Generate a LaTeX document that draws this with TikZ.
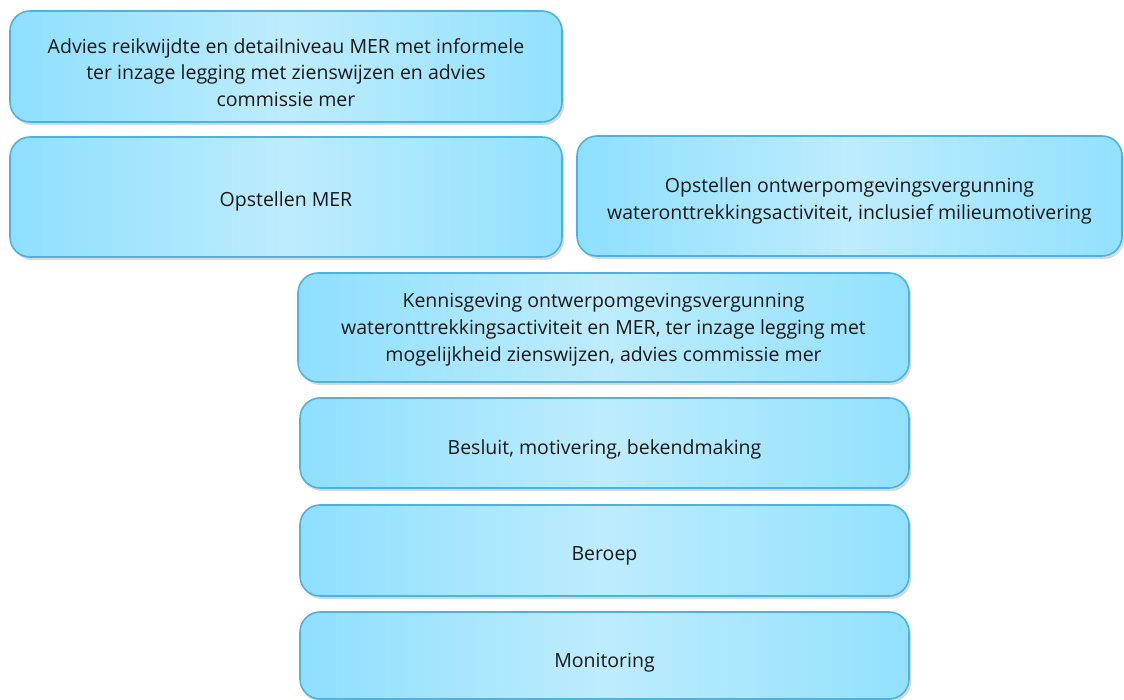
\documentclass[tikz,border=0pt]{standalone}
\usepackage{fontspec}
\setmainfont{Open Sans}
\usetikzlibrary{shadows}
\definecolor{boxL}{HTML}{8EDFFE}
\definecolor{boxM}{HTML}{BEECFC}
\definecolor{boxR}{HTML}{92E1FE}
\definecolor{boxB}{HTML}{4DB2E2}
\definecolor{txt}{HTML}{1A1A1A}
\tikzset{
  stepbox/.style={rectangle, rounded corners=20pt, draw=boxB, line width=1.6pt,
    left color=boxL, right color=boxR, middle color=boxM,
    drop shadow={shadow xshift=2pt, shadow yshift=-3pt, opacity=0.22, fill=black!70},
    inner sep=0pt},
  steptext/.style={align=center, text=txt, font=\fontsize{19.5}{26.7}\selectfont, inner sep=0pt},
}
\begin{document}
\begin{tikzpicture}[x=1pt,y=-1pt]
\useasboundingbox (0,0) rectangle (1124,700);
\node[stepbox, minimum width=552pt, minimum height=111pt] (b1) at (286,66.5) {};
\node[stepbox, minimum width=552pt, minimum height=120pt] (b2) at (286,197) {};
\node[stepbox, minimum width=545pt, minimum height=120pt] (b3) at (849.5,196) {};
\node[stepbox, minimum width=611pt, minimum height=109pt] (b4) at (603.5,327.5) {};
\node[stepbox, minimum width=609pt, minimum height=90pt] (b5) at (604.5,443) {};
\node[stepbox, minimum width=609pt, minimum height=91pt] (b6) at (604.5,550.5) {};
\node[stepbox, minimum width=609pt, minimum height=87pt] (b7) at (604.5,655.5) {};
\node[steptext] (t1) at ([yshift=-6pt]b1.center)
  {Advies reikwijdte en detailniveau MER met informele\\ter inzage legging met zienswijzen en advies\\commissie mer};
\node[steptext] (t2) at ([yshift=-4pt]b2.center) {Opstellen MER};
\node[steptext] (t3) at ([yshift=-5pt]b3.center)
  {Opstellen ontwerpomgevingsvergunning\\wateronttrekkingsactiviteit, inclusief milieumotivering};
\node[steptext] (t4) at ([yshift=-2pt]b4.center)
  {Kennisgeving ontwerpomgevingsvergunning\\wateronttrekkingsactiviteit en MER, ter inzage legging met\\mogelijkheid zienswijzen, advies commissie mer};
\node[steptext] (t5) at ([yshift=-6pt]b5.center) {Besluit, motivering, bekendmaking};
\node[steptext] (t6) at ([yshift=-5pt]b6.center) {Beroep};
\node[steptext] (t7) at ([yshift=-7pt]b7.center) {Monitoring};
\end{tikzpicture}
\end{document}
